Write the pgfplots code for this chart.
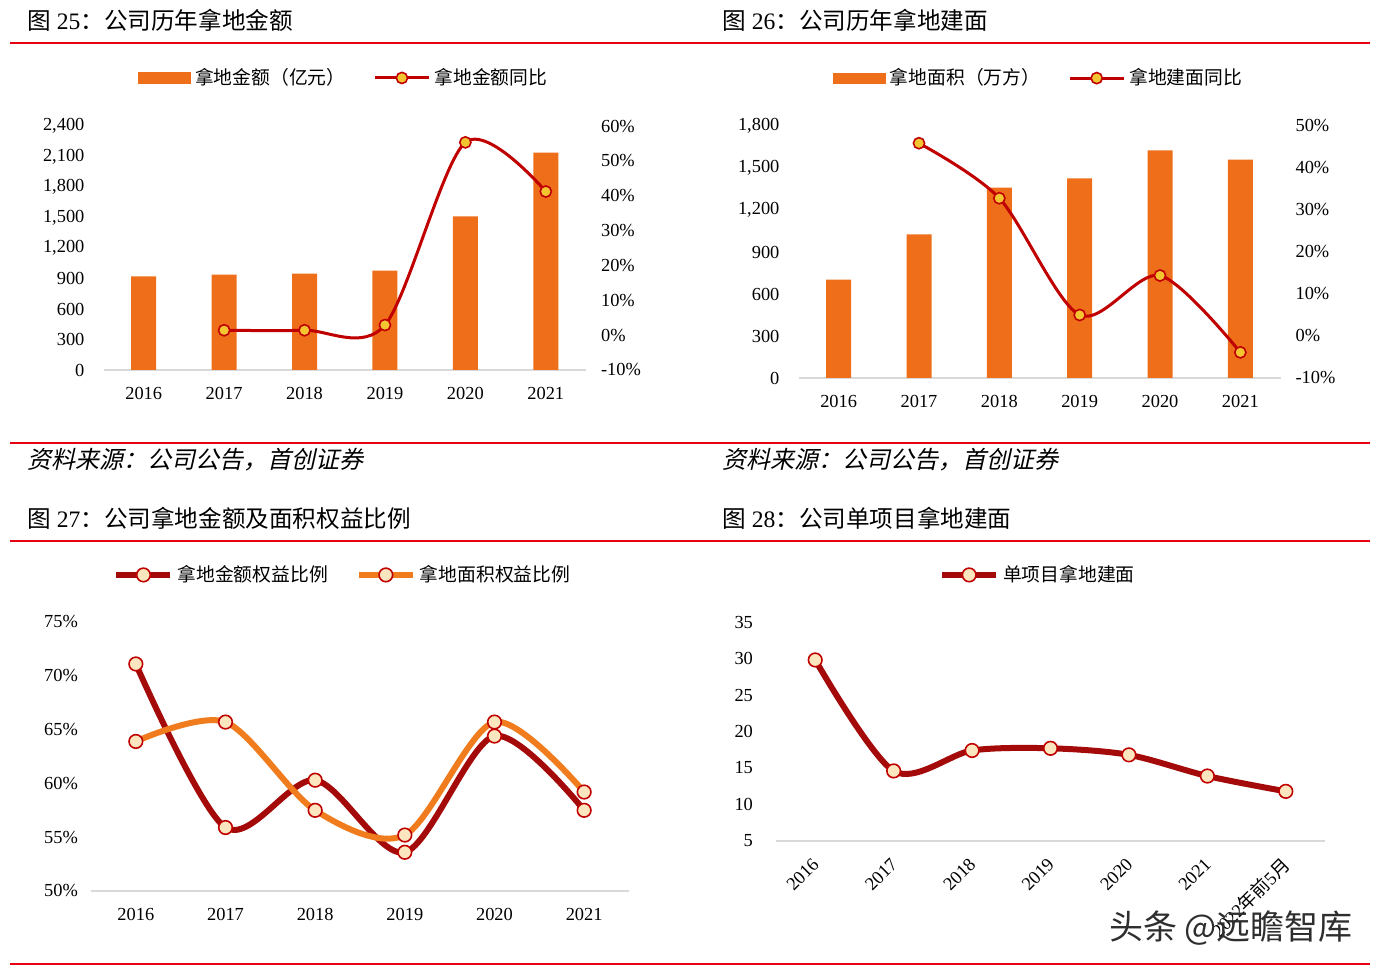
\documentclass[border=0pt]{standalone}
\usepackage{fontspec}
\usepackage{pgfplots}
\pgfplotsset{compat=1.18}
\setmainfont{Liberation Serif}
\newfontfamily\cjk{Noto Sans CJK SC}
\newfontfamily\cjkit[FakeSlant=0.22]{Noto Sans CJK SC}

\definecolor{barorange}{HTML}{EE6E1A}
\definecolor{lineorange}{HTML}{F07C1E}
\definecolor{darkred}{HTML}{C00000}
\definecolor{deepred}{HTML}{A50A0A}
\definecolor{gold}{HTML}{F2C531}
\definecolor{cream}{HTML}{FCE6C0}
\definecolor{rule}{HTML}{E60012}
\definecolor{axisgray}{HTML}{D9D9D9}

\pgfplotsset{
  panel/.style={
    scale only axis,
    anchor=south west,
    xmin=-0.5, xmax=5.5,
    axis lines*=left,
    x axis line style={axisgray, line width=1.2pt, -},
    y axis line style={draw=none},
    major tick length=0pt,
    tick label style={font=\fontsize{9.2}{11}\selectfont},
    /pgf/number format/assume math mode=true,
    xtick={0,...,5},
    xticklabels={2016,2017,2018,2019,2020,2021},
    clip=false,
  },
  leg/.style={
    legend style={draw=none, fill=none, legend columns=-1,
      font=\fontsize{9.4}{11}\selectfont\cjk,
      /tikz/every even column/.append style={column sep=12pt},
      inner sep=0pt},
  },
  barleg/.style={legend image code/.code={
      \fill[barorange] (0pt,-2.6pt) rectangle (26pt,2.6pt);}},
  lineleg/.style={legend image code/.code={
      \draw[#1, mark=none] (0pt,0pt) -- (27pt,0pt);
      \draw[#1, only marks] plot coordinates {(13.5pt,0pt)};}},
}

\begin{document}
\begin{tikzpicture}[head/.style={anchor=west, inner sep=0pt, font=\fontsize{11.8}{13}\selectfont}]
\path[use as bounding box] (0,0) rectangle (692.5pt,487pt);

% headings and red rules
\node[head] at (13.5pt,477pt) {{\cjk 图} 25{\cjk ：公司历年拿地金额}};
\node[head] at (361pt,477pt) {{\cjk 图} 26{\cjk ：公司历年拿地建面}};
\draw[rule, line width=1pt] (5pt,465.5pt) -- (685pt,465.5pt);
\draw[rule, line width=1pt] (5pt,265.5pt) -- (685pt,265.5pt);
\node[head, font=\fontsize{12}{13}\selectfont\cjkit] at (13.5pt,257pt) {资料来源：公司公告，首创证券};
\node[head, font=\fontsize{12}{13}\selectfont\cjkit] at (361pt,257pt) {资料来源：公司公告，首创证券};
\node[head] at (13.5pt,228pt) {{\cjk 图} 27{\cjk ：公司拿地金额及面积权益比例}};
\node[head] at (361pt,228pt) {{\cjk 图} 28{\cjk ：公司单项目拿地建面}};
\draw[rule, line width=1pt] (5pt,216.5pt) -- (685pt,216.5pt);
\draw[rule, line width=1pt] (5pt,5pt) -- (685pt,5pt);

% ---- Fig 25 ----
\begin{axis}[panel, at={(51.75pt,302pt)}, width=241.25pt, height=122pt,
  ymin=0, ymax=2400, ytick={0,300,...,2400},
  yticklabels={0,300,600,900,{1,200},{1,500},{1,800},{2,100},{2,400}},
  yticklabel style={xshift=-6pt},
  xticklabel style={yshift=-5pt}]
\addplot[ybar, bar width=12.5pt, fill=barorange, draw=none] coordinates {
  (0,920) (1,937) (2,947) (3,977) (4,1512) (5,2138)};
\end{axis}
\begin{axis}[panel, leg, at={(51.75pt,302pt)}, width=241.25pt, height=122pt,
  ymin=-10, ymax=60, ytick={-10,0,...,60},
  yticklabels={-10\%,0\%,10\%,20\%,30\%,40\%,50\%,60\%},
  axis y line*=right, axis x line=none,
  yticklabel style={xshift=4pt},
  legend style={at={(0.5,1.197)}, anchor=center}]
\addlegendimage{barleg}
\addlegendentry{拿地金额（亿元）}
\addplot[darkred, line width=1.5pt, smooth, mark=*,
  mark options={fill=gold, draw=darkred, line width=0.8pt}, mark size=2.8pt, lineleg]
  coordinates {(1,1.4) (2,1.4) (3,2.9) (4,55.3) (5,41.2)};
\addlegendentry{拿地金额同比}
\end{axis}

% ---- Fig 26 ----
\begin{axis}[panel, at={(399.25pt,298pt)}, width=241pt, height=126pt,
  ymin=0, ymax=1800, ytick={0,300,...,1800},
  yticklabels={0,300,600,900,{1,200},{1,500},{1,800}},
  yticklabel style={xshift=-6pt},
  xticklabel style={yshift=-5pt}]
\addplot[ybar, bar width=12.5pt, fill=barorange, draw=none] coordinates {
  (0,703) (1,1025) (2,1359) (3,1426) (4,1626) (5,1559)};
\end{axis}
\begin{axis}[panel, leg, at={(399.25pt,298pt)}, width=241pt, height=126pt,
  ymin=-10, ymax=50, ytick={-10,0,...,50},
  yticklabels={-10\%,0\%,10\%,20\%,30\%,40\%,50\%},
  axis y line*=right, axis x line=none,
  yticklabel style={xshift=4pt},
  legend style={at={(0.5,1.19)}, anchor=center}]
\addlegendimage{barleg}
\addlegendentry{拿地面积（万方）}
\addplot[darkred, line width=1.5pt, smooth, mark=*,
  mark options={fill=gold, draw=darkred, line width=0.8pt}, mark size=2.8pt, lineleg]
  coordinates {(1,45.9) (2,32.8) (3,5.0) (4,14.4) (5,-3.9)};
\addlegendentry{拿地建面同比}
\end{axis}

% ---- Fig 27 ----
\begin{axis}[panel, leg, at={(45.5pt,41.5pt)}, width=269pt, height=134.5pt,
  ymin=50, ymax=75, ytick={50,55,...,75},
  yticklabels={50\%,55\%,60\%,65\%,70\%,75\%},
  yticklabel style={xshift=-3pt},
  xticklabel style={yshift=-5pt},
  legend style={at={(0.47,1.175)}, anchor=center}]
\addplot[deepred, line width=3pt, smooth, mark=*,
  mark options={fill=cream, draw=darkred, line width=0.8pt}, mark size=3.4pt, lineleg]
  coordinates {(0,71.1) (1,55.9) (2,60.3) (3,53.6) (4,64.4) (5,57.5)};
\addlegendentry{拿地金额权益比例}
\addplot[lineorange, line width=3pt, smooth, mark=*,
  mark options={fill=cream, draw=darkred, line width=0.8pt}, mark size=3.4pt, lineleg]
  coordinates {(0,63.9) (1,65.7) (2,57.5) (3,55.2) (4,65.7) (5,59.2)};
\addlegendentry{拿地面积权益比例}
\end{axis}

% ---- Fig 28 ----
\begin{axis}[panel, leg, at={(388pt,66.5pt)}, width=274.5pt, height=109.5pt,
  xmin=-0.5, xmax=6.5, xtick={0,...,6},
  xticklabels={2016,2017,2018,2019,2020,2021,{2022{\cjk 年前}5{\cjk 月}}},
  xticklabel style={rotate=45, anchor=east, xshift=-3.6pt, yshift=-7.4pt},
  ymin=5, ymax=35, ytick={5,10,...,35},
  yticklabel style={xshift=-8pt},
  legend style={at={(0.479,1.215)}, anchor=center}]
\addplot[deepred, line width=3pt, smooth, mark=*,
  mark options={fill=cream, draw=darkred, line width=0.8pt}, mark size=3.4pt, lineleg]
  coordinates {(0,29.8) (1,14.6) (2,17.4) (3,17.7) (4,16.8) (5,13.9) (6,11.8)};
\addlegendentry{单项目拿地建面}
\end{axis}

% watermark
\node[font=\fontsize{17}{19}\selectfont\cjk, text=black!82] at (615.5pt,23pt) {头条 @远瞻智库};
\end{tikzpicture}
\end{document}
